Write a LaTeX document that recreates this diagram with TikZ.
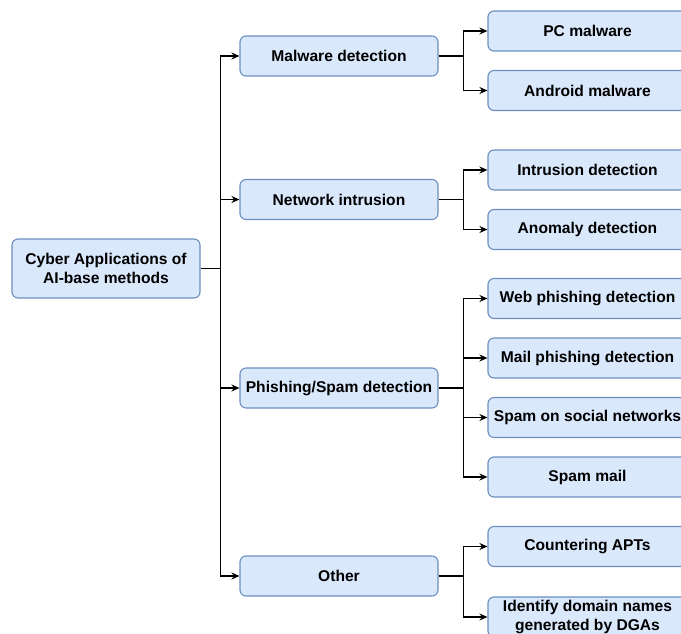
\documentclass[tikz,border=0pt]{standalone}
\usepackage{fontspec}
\setmainfont{Liberation Sans}
\usetikzlibrary{arrows.meta,positioning}
\definecolor{boxfill}{HTML}{DAE8FC}
\definecolor{boxline}{HTML}{6C8EBF}

\tikzset{
  box/.style={draw=boxline,fill=boxfill,line width=1.1pt,rounded corners=6pt,
    align=center,inner sep=2pt,font=\fontsize{15.6}{18.5}\selectfont\bfseries},
  catbox/.style={box,minimum width=198pt,minimum height=40pt},
  leafbox/.style={box,minimum width=199pt,minimum height=40pt},
  link/.style={line width=1.2pt,-{Stealth[length=8pt,width=7pt]}},
}

\begin{document}
\begin{tikzpicture}[x=1pt,y=-1pt]
\useasboundingbox (0,0) rectangle (681,634);

% Root
\node[box,minimum width=188pt,minimum height=59pt] (root) at (106,268.5)
  {Cyber Applications of\\AI-base methods};

% Categories
\node[catbox] (malware)  at (339,56)    {Malware detection};
\node[catbox] (network)  at (339,199.5) {Network intrusion};
\node[catbox] (phishing) at (339,388)   {Phishing/Spam detection};
\node[catbox] (other)    at (339,576)   {Other};

% Applications
\node[leafbox] (pc)      at (587.5,31)    {PC malware};
\node[leafbox] (android) at (587.5,90.5)  {Android malware};
\node[leafbox] (intru)   at (587.5,170)   {Intrusion detection};
\node[leafbox] (anomaly) at (587.5,229.5) {Anomaly detection};
\node[leafbox] (webph)   at (587.5,298.5) {Web phishing detection};
\node[leafbox] (mailph)  at (587.5,358)   {Mail phishing detection};
\node[leafbox] (social)  at (587.5,417.5) {Spam on social networks};
\node[leafbox] (spam)    at (587.5,477)   {Spam mail};
\node[leafbox] (apt)     at (587.5,546.5) {Countering APTs};
\node[leafbox] (dga)     at (587.5,617)
  {Identify domain names\\generated by DGAs};

% Connectors
\foreach \c in {malware,network,phishing,other}
  \draw[link] (root.east) -- ++(20,0) |- (\c.west);
\foreach \l in {pc,android}
  \draw[link] (malware.east) -- ++(25,0) |- (\l.west);
\foreach \l in {intru,anomaly}
  \draw[link] (network.east) -- ++(25,0) |- (\l.west);
\foreach \l in {webph,mailph,social,spam}
  \draw[link] (phishing.east) -- ++(25,0) |- (\l.west);
\foreach \l in {apt,dga}
  \draw[link] (other.east) -- ++(25,0) |- (\l.west);
\end{tikzpicture}
\end{document}
